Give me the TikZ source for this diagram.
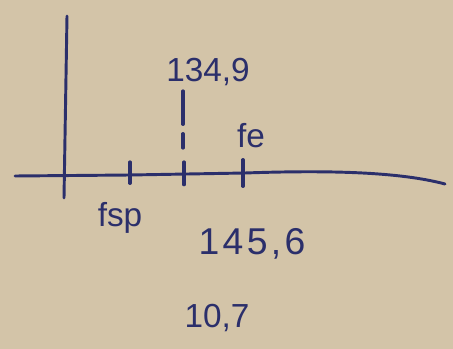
\documentclass[tikz,border=0pt]{standalone}
\usepackage{fontspec}
\setmainfont{Liberation Sans}
\usetikzlibrary{positioning}
\definecolor{paper}{HTML}{D3C4A8}
\definecolor{ink}{HTML}{2B2F6B}

\begin{document}
\begin{tikzpicture}[
    x=0.75pt, y=-0.75pt,
    axis/.style={draw=ink, line width=2.2pt, line cap=round},
    tick/.style={draw=ink, line width=2.4pt, line cap=round},
    guide/.style={draw=ink, line width=2.4pt, dash pattern=on 25pt off 7pt, line cap=round},
    lbl/.style={text=ink, font=\fontsize{25}{28}\selectfont, inner sep=0pt}
]
    % paper
    \fill[paper] (0,0) rectangle (453,349);
    \useasboundingbox (0,0) rectangle (453,349);

    % axes
    \coordinate (ytop) at (67,16);
    \coordinate (ybot) at (64,198);
    \coordinate (xleft) at (15,176);
    \coordinate (xright) at (445,184);
    \draw[axis] (ytop) -- (ybot);
    \draw[axis] (xleft) -- (130,175) -- (245,173) .. controls (330,170) and (400,172) .. (xright);

    % ticks
    \coordinate (t1) at (130,174);
    \coordinate (t2) at (184,174);
    \coordinate (t3) at (243,173);
    \draw[tick] ([yshift=9pt]t1) -- ([yshift=-7pt]t1);
    \draw[tick] ([yshift=9pt]t2) -- ([yshift=-8pt]t2);
    \draw[tick] ([yshift=10pt]t3) -- ([yshift=-10pt]t3);

    % labels
    \node[lbl] (top) at (208,72) {134,9};
    \node[lbl] (fe) at (251,136) {fe};
    \node[lbl] (fsp) at (120,218) {fsp};
    \node[lbl, font=\fontsize{28}{32}\selectfont\addfontfeatures{LetterSpace=9}] (sum) at (252,244) {145,6};
    \node[lbl] (diff) at (217,318) {10,7};

    % dashed guide below 134,9
    \draw[guide] (183,91) -- (183,148);
\end{tikzpicture}
\end{document}
